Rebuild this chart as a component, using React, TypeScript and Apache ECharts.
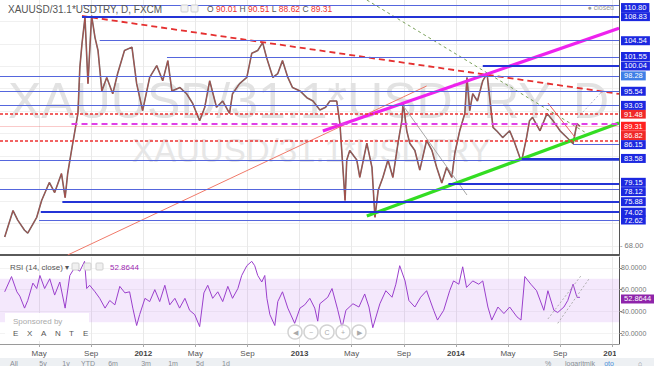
import React, { useEffect, useRef } from 'react';
import * as echarts from 'echarts';

// ---------- data ----------
const PRICE_DATES = [
  '2011-02-12','2011-03-01','2011-03-12','2011-03-28','2011-04-05','2011-04-26','2011-05-07','2011-05-25',
  '2011-06-07','2011-06-23','2011-07-01','2011-07-07','2011-07-16','2011-07-23','2011-07-31','2011-08-05',
  '2011-08-10','2011-08-17','2011-08-24','2011-09-02','2011-09-10','2011-09-17','2011-09-26','2011-10-07',
  '2011-10-21','2011-11-02','2011-11-18','2011-12-05','2011-12-16','2011-12-30','2012-01-16','2012-02-02',
  '2012-02-16','2012-02-28','2012-03-07','2012-03-26','2012-04-11','2012-04-25','2012-05-11','2012-05-23',
  '2012-06-04','2012-06-20','2012-07-04','2012-07-20','2012-07-27','2012-08-13','2012-08-30','2012-09-11',
  '2012-09-25','2012-10-06','2012-10-15','2012-10-30','2012-11-11','2012-11-22','2012-12-04','2012-12-15',
  '2013-01-02','2013-01-18','2013-02-02','2013-02-18','2013-03-01','2013-03-11','2013-03-27','2013-04-04',
  '2013-04-16','2013-04-20','2013-04-27','2013-05-13','2013-05-20','2013-06-06','2013-06-18','2013-06-25',
  '2013-07-02','2013-07-13','2013-07-25','2013-08-06','2013-08-18','2013-08-27','2013-08-30','2013-09-08',
  '2013-09-15','2013-09-27','2013-10-08','2013-10-24','2013-11-06','2013-11-17','2013-11-29','2013-12-10',
  '2013-12-22','2013-12-29','2014-01-10','2014-01-22','2014-01-27','2014-02-03','2014-02-10','2014-02-21',
  '2014-03-03','2014-03-13','2014-03-20','2014-03-27','2014-04-05','2014-04-19','2014-05-05','2014-05-17',
  '2014-05-29','2014-06-03','2014-06-14','2014-06-21','2014-06-28','2014-07-15','2014-08-01','2014-08-15',
  '2014-09-01','2014-09-17','2014-10-01','2014-10-10','2014-10-17'
];
const PRICE_CLOSE = [
  69.6, 74.3, 72.6, 70.8, 70.3, 73.1, 76.1, 79.3,
  77.5, 80.9, 76.6, 80.9, 85.0, 88.1, 91.6, 99.8,
  104.0, 108.7, 96.9, 109.0, 105.1, 102.8, 95.6, 98.0,
  95.1, 98.7, 102.8, 103.4, 96.9, 92.1, 98.0, 100.1,
  97.4, 101.0, 95.6, 96.2, 95.1, 93.4, 90.3, 92.7,
  97.4, 92.7, 93.8, 91.6, 95.1, 96.9, 98.0, 102.3,
  102.8, 104.2, 101.6, 98.0, 98.7, 101.0, 98.0, 96.2,
  95.6, 94.4, 93.8, 92.2, 92.7, 93.8, 93.8, 89.8,
  76.1, 83.3, 85.0, 83.3, 80.2, 86.3, 82.0, 73.1,
  77.9, 80.2, 83.3, 80.2, 86.3, 90.3, 93.6, 88.5,
  86.3, 85.0, 81.5, 86.8, 85.0, 82.0, 79.2, 82.0,
  80.2, 84.5, 88.5, 91.6, 98.0, 92.1, 95.1, 93.8,
  97.4, 98.7, 93.8, 89.1, 88.5, 87.3, 88.5, 86.3,
  83.7, 83.3, 87.3, 90.3, 90.9, 88.5, 91.6, 90.3,
  88.5, 87.3, 86.2, 89.8, 89.31
];

const RSI_DATES = [
  '2011-02-12','2011-02-28','2011-03-10','2011-03-17','2011-03-28','2011-04-05','2011-04-17','2011-04-26',
  '2011-05-03','2011-05-14','2011-05-26','2011-06-07','2011-06-19','2011-07-01','2011-07-12','2011-07-23',
  '2011-08-05','2011-08-16','2011-08-21','2011-08-28','2011-09-10','2011-09-21','2011-10-03','2011-10-14',
  '2011-10-26','2011-11-07','2011-11-19','2011-11-30','2011-12-07','2011-12-16','2011-12-23','2012-01-05',
  '2012-01-16','2012-01-28','2012-02-09','2012-02-21','2012-03-02','2012-03-14','2012-03-25','2012-04-07',
  '2012-04-18','2012-04-30','2012-05-11','2012-05-21','2012-05-30','2012-06-11','2012-06-23','2012-07-04',
  '2012-07-16','2012-07-27','2012-08-09','2012-08-18','2012-08-30','2012-09-11','2012-09-18','2012-09-25',
  '2012-10-04','2012-10-11','2012-10-16','2012-10-23','2012-11-04','2012-11-11','2012-11-22','2012-12-04',
  '2012-12-20','2013-01-02','2013-01-13','2013-01-25','2013-02-06','2013-02-13','2013-02-18','2013-03-06',
  '2013-03-16','2013-03-29','2013-04-09','2013-04-18','2013-05-04','2013-05-18','2013-06-01','2013-06-11',
  '2013-06-20','2013-07-06','2013-07-20','2013-08-04','2013-08-13','2013-08-22','2013-09-04','2013-09-13',
  '2013-09-27','2013-10-10','2013-10-24','2013-11-10','2013-11-19','2013-12-03','2013-12-17','2013-12-26',
  '2014-01-08','2014-01-17','2014-01-26','2014-02-10','2014-02-24','2014-03-03','2014-03-15','2014-03-24',
  '2014-04-08','2014-04-22','2014-05-05','2014-05-22','2014-06-01','2014-06-10','2014-06-24','2014-07-07',
  '2014-07-24','2014-08-03','2014-08-17','2014-08-26','2014-09-10','2014-09-19','2014-10-01','2014-10-10',
  '2014-10-17'
];
const RSI_VALUES = [
  58, 72, 58, 54, 43, 50, 66, 61,
  73, 61, 70, 55, 67, 43, 73, 80,
  77, 86, 61, 64, 58, 52, 43, 50,
  46, 63, 57, 58, 43, 27, 37, 52,
  49, 60, 49, 64, 46, 52, 43, 52,
  41, 37, 26, 57, 64, 52, 58, 49,
  63, 52, 61, 73, 82, 86, 82, 73,
  67, 73, 52, 37, 27, 49, 58, 43,
  29, 43, 46, 52, 43, 31, 47, 53,
  61, 42, 25, 41, 47, 44, 56, 44,
  25, 47, 59, 53, 65, 82, 68, 50,
  44, 53, 59, 41, 32, 41, 59, 68,
  65, 81, 62, 68, 65, 68, 44, 32,
  44, 38, 44, 35, 32, 72, 65, 59,
  41, 59, 41, 39, 44, 50, 65, 53,
  52.8644
];
const RSI_LAST = 52.8644;

const TIME_TICKS = [
  '2011-05-01','2011-09-01','2012-01-01','2012-05-01','2012-09-01','2013-01-01',
  '2013-05-01','2013-09-01','2014-01-01','2014-05-01','2014-09-01','2015-01-01'
];
const MONTH_NAMES = ['Jan','Feb','Mar','Apr','May','Jun','Jul','Aug','Sep','Oct','Nov','Dec'];
const PRICE_GRID_TICKS = [68, 72, 76, 80, 84, 88, 92, 96, 100, 104, 108];
const PRICE_SHOWN_TICKS = [68];
const RSI_TICKS = [20, 40, 60, 80];

// horizontal levels (blue), with the date each one starts from ('' = whole chart)
const BLUE_LEVELS = [110.80, 108.83, 104.54, 101.55, 100.04, 98.28, 95.54, 93.03, 86.15, 83.58, 83.30, 79.15, 78.12, 75.88, 74.02, 72.62];
const BLUE_LEVEL_FROM = ['2011-08-12','2011-08-10','2011-09-21','2012-02-26','2014-03-03','','','','2014-10-01','2014-06-03','','2013-12-14','','2011-06-25','2011-05-05','2011-05-01'];
const BLUE_LEVEL_HEAVY = [false, true, false, false, true, false, false, false, false, true, false, true, false, true, true, false];
const BLUE_LEVEL_TAGGED = [true, true, true, true, true, true, true, true, true, true, false, true, true, true, true, true];
const RED_LEVELS = [91.48, 86.82];
const MAGENTA_LEVEL = 89.71;
const MAGENTA_FROM = '2011-07-16';
const LAST_PRICE = 89.31;
const OHLC_LABELS = ['O', 'H', 'L', 'C'];
const OHLC_VALUES = ['90.01', '90.51', '88.62', '89.31'];

// drawn trend lines [date, price]
const RESISTANCE_RED = [['2011-08-10', 108.94], ['2015-01-17', 95.07]];
const CHANNEL_MAGENTA = [['2013-02-25', 88.46], ['2015-01-17', 106.75]];
const SUPPORT_GREEN = [['2013-06-06', 73.33], ['2015-01-17', 89.89]];
const TREND_SALMON = [['2011-07-07', 66.39], ['2013-10-24', 96.48]];
const TREND_OLIVE = [['2013-06-06', 111.79], ['2014-10-28', 88.29]];
const TREND_GRAY = [['2013-08-29', 93.09], ['2014-01-27', 77.07]];
const TREND_RED_SHORT = [['2014-08-03', 93.45], ['2014-10-05', 87.40]];
const PROJ_GRAY = [['2014-10-11', 90.78], ['2014-12-11', 95.76]];
const RSI_TREND_A = [['2014-08-03', 33], ['2014-10-20', 73]];
const RSI_TREND_B = [['2014-08-26', 29], ['2014-11-08', 70]];

const X_FIRST = '2011-02-01';
const X_LAST = '2015-01-17';
const PRICE_MIN = 66.39;
const PRICE_MAX = 111.79;

// ---------- helpers ----------
const toM = (d: string) => {
  const [y, m, dd] = d.split('-').map(Number);
  return (y - 2011) * 12 + (m - 1) + (dd - 1) / 30.5;
};
const XMIN = toM(X_FIRST);
const XMAX = toM(X_LAST);
const pts = (arr: any[]) => arr.map((p) => [toM(p[0]), p[1]]);
const FONT = 'Liberation Sans';

const boxLabel = (text: string, bg: string, dy = 0) => ({
  show: true,
  position: 'end',
  formatter: text,
  backgroundColor: bg,
  color: '#fff',
  fontSize: 7.5,
  lineHeight: 8,
  fontFamily: FONT,
  padding: [1, 3, 0, 3],
  distance: 2,
  offset: [0, dy],
});

// small vertical nudges of the price tags, as the reference stacks them
const tagNudge = (v: number) => {
  if (v === 110.80) return 2;
  if (v === 101.55) return -1;
  if (v === 79.15) return -1;
  if (v === 78.12) return 2.5;
  if (v === 86.82) return -4.7;
  if (v === 86.15) return 0.6;
  return 0;
};

export default function App() {
  const ref = useRef<HTMLDivElement>(null);

  useEffect(() => {
    if (!ref.current) return;
    const chart = echarts.init(ref.current, null, { renderer: 'svg', width: 654, height: 366 });

    const priceData = PRICE_DATES.map((d, i) => [toM(d), PRICE_CLOSE[i]]);
    const rsiData = RSI_DATES.map((d, i) => [toM(d), RSI_VALUES[i]]);
    const tickVals = TIME_TICKS.map(toM);

    const blueLines = BLUE_LEVELS.map((v, i) => {
      const heavy = BLUE_LEVEL_HEAVY[i];
      return [
        {
          coord: [BLUE_LEVEL_FROM[i] ? toM(BLUE_LEVEL_FROM[i]) : XMIN, v],
          lineStyle: { color: heavy ? '#2434d6' : '#5566dd', width: heavy ? 2 : 1, type: 'solid' },
          label: BLUE_LEVEL_TAGGED[i]
            ? boxLabel(v.toFixed(2), v === 98.28 ? '#3f7fe6' : '#1c28e0', tagNudge(v))
            : { show: false },
        },
        { coord: [XMAX, v] },
      ];
    });

    const redLines: any[] = RED_LEVELS.map((v) => [
      {
        coord: [XMIN, v],
        lineStyle: { color: '#ee3030', width: 1.6, type: [3, 2] },
        label: boxLabel(v.toFixed(2), '#f02828', tagNudge(v)),
      },
      { coord: [XMAX, v] },
    ]);
    redLines.push([
      {
        coord: [toM(MAGENTA_FROM), MAGENTA_LEVEL],
        lineStyle: { color: '#e040e8', width: 2, type: [6, 4] },
        label: { show: false },
      },
      { coord: [XMAX, MAGENTA_LEVEL] },
    ]);
    redLines.push([
      {
        coord: [XMIN, LAST_PRICE],
        lineStyle: { color: 'rgba(240,80,80,0.3)', width: 1, type: 'solid' },
        label: boxLabel(LAST_PRICE.toFixed(2), '#ff2020'),
      },
      { coord: [XMAX, LAST_PRICE] },
    ]);

    const trend = (name: string, data: any[], color: string, width: number, type: any, xi = 0) => ({
      name,
      type: 'line',
      xAxisIndex: xi,
      yAxisIndex: xi,
      data: pts(data),
      showSymbol: false,
      symbol: 'none',
      silent: true,
      z: 4,
      lineStyle: { color, width, type },
    });

    const xAxisBase = {
      type: 'value',
      min: XMIN,
      max: XMAX,
      axisTick: { show: false, customValues: tickVals },
      splitLine: { show: true, lineStyle: { color: '#e9e9e9', width: 1 } },
    };

    const navGlyphs = ['◀', '−', 'C', '+', '▶'];
    const toolbarItems = ['All', '5y', '1y', 'YTD', '6m', '3m', '1m', '5d', '1d'];
    const toolbarX = [14, 43, 66, 88, 113, 146, 173, 200, 226];
    const exante = ['E', 'X', 'A', 'N', 'T', 'E'];

    const rich: any = {
      k: { fill: '#555', color: '#555', fontSize: 8.5, fontFamily: FONT },
      v: { fill: '#ee3333', color: '#ee3333', fontSize: 8.5, fontFamily: FONT },
    };

    const option: any = {
      animation: false,
      backgroundColor: '#ffffff',
      textStyle: { fontFamily: FONT },
      grid: [
        { left: 0, top: 0, width: 619, height: 255, outerBoundsMode: 'none', containLabel: false },
        { left: 0, top: 257, width: 619, height: 87, outerBoundsMode: 'none', containLabel: false },
      ],
      xAxis: [
        {
          ...xAxisBase,
          gridIndex: 0,
          axisLabel: { show: false },
          axisLine: { show: true, onZero: false, lineStyle: { color: '#5a5a5a', width: 2 } },
        },
        {
          ...xAxisBase,
          gridIndex: 1,
          axisLine: { show: true, onZero: false, lineStyle: { color: '#9a9a9a', width: 1 } },
          axisTick: { show: true, customValues: tickVals, length: 3, lineStyle: { color: '#aaa' } },
          axisLabel: {
            show: true,
            customValues: tickVals,
            fontSize: 8,
            color: '#555',
            margin: 5,
            formatter: (v: number) => {
              const r = Math.round(v);
              const mo = ((r % 12) + 12) % 12;
              if (mo === 0) return `{b|${2011 + Math.floor(r / 12)}}`;
              return MONTH_NAMES[mo];
            },
            rich: { b: { fontWeight: 'bold', fontSize: 8, color: '#444' } },
          },
        },
      ],
      yAxis: [
        {
          type: 'value',
          gridIndex: 0,
          position: 'right',
          min: PRICE_MIN,
          max: PRICE_MAX,
          axisLine: { show: true, lineStyle: { color: '#555', width: 1 } },
          axisTick: { show: false, customValues: PRICE_GRID_TICKS },
          axisLabel: {
            show: true,
            customValues: PRICE_SHOWN_TICKS,
            formatter: (v: number) => '- ' + v.toFixed(2),
            fontSize: 7.5,
            color: '#777',
            margin: 1,
          },
          splitLine: { show: true, lineStyle: { color: '#f0f0f0' } },
        },
        {
          type: 'value',
          gridIndex: 1,
          position: 'right',
          min: 10,
          max: 90,
          axisLine: { show: true, lineStyle: { color: '#555', width: 1 } },
          axisTick: { show: true, length: 3, customValues: RSI_TICKS, lineStyle: { color: '#888' } },
          axisLabel: {
            show: true,
            customValues: RSI_TICKS,
            formatter: (v: number) => v.toFixed(4),
            fontSize: 7,
            color: '#777',
            margin: 2,
          },
          splitLine: { show: true, lineStyle: { color: '#f3f3f3' } },
        },
      ],
      series: [
        {
          name: 'price',
          type: 'line',
          xAxisIndex: 0,
          yAxisIndex: 0,
          data: priceData,
          showSymbol: false,
          symbol: 'none',
          silent: true,
          z: 2,
          lineStyle: { color: '#6e6e6e', width: 1.6 },
          markLine: {
            silent: true,
            symbol: ['none', 'none'],
            animation: false,
            data: redLines,
          },
        },
        {
          name: 'price-down',
          type: 'line',
          xAxisIndex: 0,
          yAxisIndex: 0,
          data: priceData,
          showSymbol: false,
          symbol: 'none',
          silent: true,
          z: 3,
          lineStyle: { color: '#c8403a', width: 0.7, opacity: 0.9 },
          markLine: {
            silent: true,
            symbol: ['none', 'none'],
            animation: false,
            data: blueLines,
          },
        },
        trend('salmon', TREND_SALMON, '#f07a6a', 1, 'solid'),
        trend('olive', TREND_OLIVE, '#7aa05a', 1, [3, 3]),
        trend('gray', TREND_GRAY, '#a8a8a8', 1, 'solid'),
        trend('redshort', TREND_RED_SHORT, '#e06060', 1, 'solid'),
        trend('proj', PROJ_GRAY, '#b5b5c8', 1, [2, 2]),
        trend('resistance', RESISTANCE_RED, '#e53030', 1.8, [6, 4]),
        trend('magenta', CHANNEL_MAGENTA, '#ee22ee', 3.2, 'solid'),
        trend('green', SUPPORT_GREEN, '#33dd22', 3.2, 'solid'),
        {
          name: 'rsi',
          type: 'line',
          xAxisIndex: 1,
          yAxisIndex: 1,
          data: rsiData,
          showSymbol: false,
          symbol: 'none',
          silent: true,
          z: 3,
          lineStyle: { color: '#9a3fcc', width: 1 },
          markArea: {
            silent: true,
            itemStyle: { color: 'rgba(190, 120, 235, 0.17)' },
            data: [[{ yAxis: 30 }, { yAxis: 70 }]],
          },
          markLine: {
            silent: true,
            symbol: ['none', 'none'],
            data: [
              {
                yAxis: RSI_LAST,
                lineStyle: { color: 'rgba(0,0,0,0)', width: 0 },
                label: boxLabel(RSI_LAST.toFixed(4), '#8e24aa', 1.5),
              },
            ],
          },
        },
        trend('rsiA', RSI_TREND_A, '#b0b0b0', 1, [2, 2], 1),
        trend('rsiB', RSI_TREND_B, '#b0b0b0', 1, [2, 2], 1),
      ],
      graphic: [
        // watermarks
        {
          type: 'text', x: 8, y: 101, z: 1, silent: true,
          style: { text: 'XAUUSD/31.1*USDTRY, D', fill: '#e2e2e2', font: `50px ${FONT}`, verticalAlign: 'middle', textVerticalAlign: 'middle' },
        },
        {
          type: 'text', x: 132, y: 150, z: 1, silent: true,
          style: { text: 'XAUUSD/31.1*USDTRY', fill: '#e6e6e6', font: `33px ${FONT}`, verticalAlign: 'middle', textVerticalAlign: 'middle' },
        },
        // legend
        {
          type: 'text', x: 8, y: 9, z: 20, silent: true,
          style: { text: 'XAUUSD/31.1*USDTRY, D, FXCM', fill: '#555', font: `10px ${FONT}`, verticalAlign: 'middle', textVerticalAlign: 'middle' },
        },
        { type: 'rect', z: 20, silent: true, shape: { x: 181, y: 5, width: 7, height: 7, r: 1 }, style: { fill: '#f4f4f4', stroke: '#cfcfcf', lineWidth: 1 } },
        { type: 'rect', z: 20, silent: true, shape: { x: 191, y: 5, width: 7, height: 7, r: 1 }, style: { fill: '#f4f4f4', stroke: '#cfcfcf', lineWidth: 1 } },
        {
          type: 'text', x: 207, y: 9, z: 20, silent: true,
          style: {
            text: OHLC_LABELS.map((k, i) => `{k|${k}} {v|${OHLC_VALUES[i]}}`).join(' '),
            rich,
            font: `8.5px ${FONT}`,
            verticalAlign: 'middle',
            textVerticalAlign: 'middle',
          },
        },
        {
          type: 'text', x: 614, y: 7, z: 20, silent: true,
          style: { text: '● closed', fill: '#999', font: `7px ${FONT}`, align: 'right', textAlign: 'right', verticalAlign: 'middle', textVerticalAlign: 'middle' },
        },
        // RSI legend
        {
          type: 'text', x: 10, y: 267, z: 20, silent: true,
          style: { text: 'RSI (14, close) ▾', fill: '#555', font: `8px ${FONT}`, verticalAlign: 'middle', textVerticalAlign: 'middle' },
        },
        ...[72, 84, 96].map((x) => ({
          type: 'rect', z: 20, silent: true, shape: { x, y: 263, width: 7, height: 7, r: 1 },
          style: { fill: '#f0f0f0', stroke: '#d0d0d0', lineWidth: 1 },
        })),
        {
          type: 'text', x: 110, y: 267, z: 20, silent: true,
          style: { text: RSI_LAST.toFixed(4), fill: '#9c27b0', font: `8px ${FONT}`, verticalAlign: 'middle', textVerticalAlign: 'middle' },
        },
        // sponsor box
        { type: 'rect', z: 15, silent: true, shape: { x: 5, y: 313, width: 84, height: 28 }, style: { fill: 'rgba(255,255,255,0.92)' } },
        {
          type: 'text', x: 13, y: 321, z: 20, silent: true,
          style: { text: 'Sponsored by', fill: '#aaa', font: `8px ${FONT}`, verticalAlign: 'middle', textVerticalAlign: 'middle' },
        },
        ...exante.map((ch, i) => ({
          type: 'text', x: 13 + i * 14, y: 333, z: 20, silent: true,
          style: { text: ch, fill: '#555', font: `8px ${FONT}`, verticalAlign: 'middle', textVerticalAlign: 'middle' },
        })),
        // navigation buttons
        ...navGlyphs.flatMap((g, i) => [
          {
            type: 'circle', z: 20, silent: true, shape: { cx: 295 + i * 16, cy: 332, r: 7 },
            style: { fill: 'rgba(255,255,255,0.8)', stroke: '#d2d2d2', lineWidth: 1.5 },
          },
          {
            type: 'text', x: 295 + i * 16, y: 332, z: 21, silent: true,
            style: { text: g, fill: '#aaa', font: `7px ${FONT}`, align: 'center', textAlign: 'center', verticalAlign: 'middle', textVerticalAlign: 'middle' },
          },
        ]),
        // clip the last time label under the price scale
        { type: 'rect', z: 20, silent: true, shape: { x: 616, y: 346, width: 38, height: 11 }, style: { fill: '#fff' } },
        // bottom toolbar
        { type: 'rect', z: 20, silent: true, shape: { x: 0, y: 358, width: 654, height: 8 }, style: { fill: '#edf0f3' } },
        ...toolbarItems.map((t, i) => ({
          type: 'text', x: toolbarX[i], y: 363, z: 21, silent: true,
          style: { text: t, fill: '#8a8f96', font: `7px ${FONT}`, align: 'center', textAlign: 'center', verticalAlign: 'middle', textVerticalAlign: 'middle' },
        })),
        ...[['%', 548, '#8a8f96'], ['logaritmik', 580, '#8a8f96'], ['oto', 609, '#4a90d9'], ['⌂', 640, '#8a8f96']].map((it: any) => ({
          type: 'text', x: it[1], y: 363, z: 21, silent: true,
          style: { text: it[0], fill: it[2], font: `7px ${FONT}`, align: 'center', textAlign: 'center', verticalAlign: 'middle', textVerticalAlign: 'middle' },
        })),
      ],
    };

    chart.setOption(option);
    return () => chart.dispose();
  }, []);

  return (
    <div
      ref={ref}
      style={{ position: 'absolute', left: 0, top: 0, width: 654, height: 366, background: '#fff' }}
    />
  );
}
